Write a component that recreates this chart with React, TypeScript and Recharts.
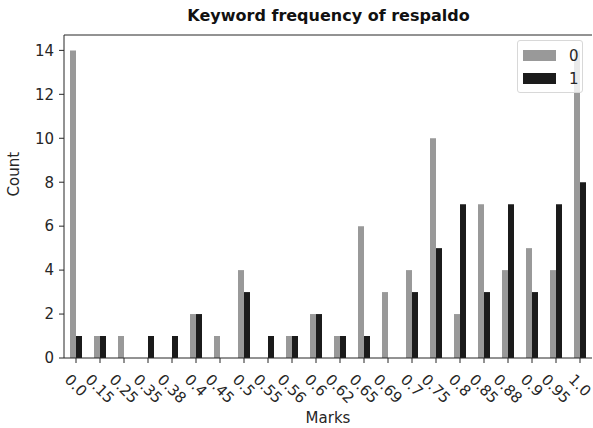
import React from 'react';
import {BarChart, Bar, XAxis, YAxis, ReferenceLine} from 'recharts';

const marks = ['0.0', '0.15', '0.25', '0.35', '0.38', '0.4', '0.45', '0.5', '0.55', '0.56', '0.6', '0.62', '0.65', '0.69', '0.7', '0.75', '0.8', '0.85', '0.88', '0.9', '0.95', '1.0'];
const count0 = [14, 1, 1, 0, 0, 2, 1, 4, 0, 1, 2, 1, 6, 3, 4, 10, 2, 7, 4, 5, 4, 14];
const count1 = [1, 1, 0, 1, 1, 2, 0, 3, 1, 1, 2, 1, 1, 0, 3, 5, 7, 3, 7, 3, 7, 8];
const yTicks = [0, 2, 4, 6, 8, 10, 12, 14];
const Y_MAX = 14.7;

const data = marks.map((m, i) => ({mark: m, c0: count0[i], c1: count1[i]}));

const FONT = '"DejaVu Sans", sans-serif';
const GRAY = '#999999';
const BLACK = '#1b1b1b';
const INK = '#262626';

// rotated tick label, centred under the tick like matplotlib's rotation=-45
function MarkTick({x, y, payload}: any) {
  const s: string = payload.value;
  const w = s.replace(/\./g, '').length * 9.5 + 4.8;
  const off = 8 + ((w + 11) * 0.707) / 2;
  return (
    <text x={x} y={y + off} dy="0.35em" textAnchor="middle" fontSize={15} fontFamily={FONT} fill={INK}
          transform={`rotate(45, ${x}, ${y + off})`}>
      {s}
    </text>
  );
}

function KeyBox() {
  const row = (color: string, label: string) => (
    <div style={{display: 'flex', alignItems: 'center', height: 23}}>
      <div style={{width: 33, height: 11, background: color, marginRight: 13}}/>
      <span>{label}</span>
    </div>
  );
  return (
    <div style={{position: 'absolute', top: 40, left: 517, width: 66, height: 53, boxSizing: 'border-box',
      border: '1px solid #d8d8d8', borderRadius: 3, background: 'rgba(255,255,255,0.8)',
      padding: '3px 0 0 5px', fontFamily: FONT, fontSize: 15, color: INK}}>
      {row(GRAY, '0')}
      {row(BLACK, '1')}
    </div>
  );
}

export default function App() {
  return (
    <div style={{position: 'absolute', left: 0, top: 0, width: 593, height: 428, background: '#fff'}}>
      <div style={{position: 'absolute', left: 0, top: 6, width: 593, textAlign: 'center', paddingLeft: 64,
        boxSizing: 'border-box', fontFamily: FONT, fontWeight: 'bold', fontSize: 16, color: '#111'}}>
        Keyword frequency of respaldo
      </div>
      <BarChart width={593} height={428} data={data} margin={{top: 35, right: 1, bottom: 0, left: 0}}
                barCategoryGap="25%" barGap={0}>
        <XAxis dataKey="mark" height={70} interval={0} tick={<MarkTick/>} tickLine={{stroke: INK}}
               tickSize={5} axisLine={{stroke: INK}}
               label={{value: 'Marks', position: 'insideBottom', offset: 5, fontSize: 15, fontFamily: FONT, fill: INK}}/>
        <YAxis width={64} domain={[0, Y_MAX]} ticks={yTicks} tickSize={5} tickMargin={5} interval={0}
               tick={{fontSize: 15, fontFamily: FONT, fill: INK}} tickLine={{stroke: INK}}
               axisLine={{stroke: INK}}
               label={{value: 'Count', angle: -90, position: 'insideLeft', offset: 14, fontSize: 15, fontFamily: FONT, fill: INK}}/>
        <YAxis yAxisId="right" orientation="right" width={0} tick={false} tickLine={false}
               axisLine={{stroke: INK}}/>
        <ReferenceLine y={Y_MAX} stroke={INK} ifOverflow="visible"/>
        <Bar dataKey="c0" name="0" fill={GRAY} isAnimationActive={false}/>
        <Bar dataKey="c1" name="1" fill={BLACK} isAnimationActive={false}/>
      </BarChart>
      <KeyBox/>
    </div>
  );
}
